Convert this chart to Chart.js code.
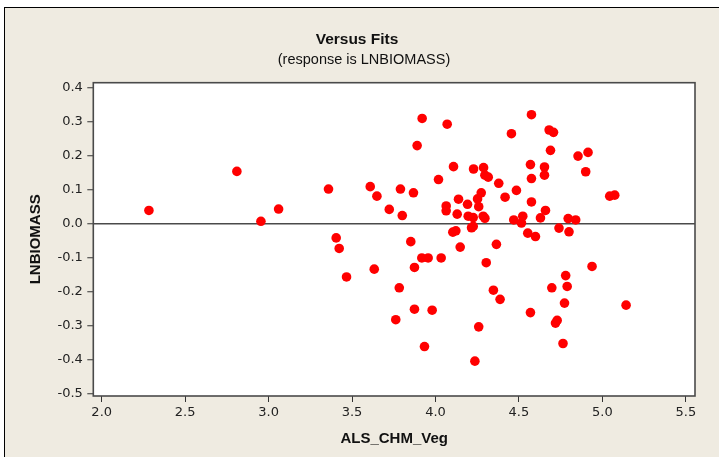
<!DOCTYPE html>
<html><head><meta charset="utf-8">
<script src="https://cdn.jsdelivr.net/npm/chart.js@4"></script>
<style>
html,body{margin:0;padding:0;background:#fff;overflow:hidden;}
#wrap{position:relative;width:719px;height:457px;}
#frame{position:absolute;left:4px;top:7px;right:0;bottom:0;background:#EFEBE1;border-top:1px solid #000;border-left:1px solid #000;}
canvas{position:absolute;left:0;top:0;}
</style></head><body>
<div id="wrap"><div id="frame"></div><canvas id="c" width="719" height="457"></canvas></div>
<script>
const chartTitle = 'Versus Fits';
const chartSubtitle = '(response is LNBIOMASS)';
const xAxisTitle = 'ALS_CHM_Veg';
const yAxisTitle = 'LNBIOMASS';
const xTickValues = [2.0, 2.5, 3.0, 3.5, 4.0, 4.5, 5.0, 5.5];
const xTickLabels = ['2.0','2.5','3.0','3.5','4.0','4.5','5.0','5.5'];
const yTickValues = [-0.5,-0.4,-0.3,-0.2,-0.1,0,0.1,0.2,0.3,0.4];
const yTickLabels = ['-0.5','-0.4','-0.3','-0.2','-0.1','0.0','0.1','0.2','0.3','0.4'];

const fitValues = [
 2.283,2.810,2.954,3.060,3.359,3.405,3.423,3.609,3.649,3.790,
 3.868,3.723,3.801,3.920,4.070,3.890,4.108,4.018,4.228,4.288,
 4.296,4.316,4.379,4.138,4.192,4.252,4.274,4.259,4.064,4.064,
 4.130,4.196,4.226,4.286,4.296,4.104,4.122,4.216,4.226,3.852,
 4.148,4.365,3.918,3.956,4.034,3.874,3.633,3.467,4.304,3.783,
 4.347,4.387,3.874,3.980,3.762,4.259,3.934,4.236,4.575,4.455,
 4.681,4.707,4.689,4.854,4.914,4.569,4.653,4.653,4.575,4.900,
 4.485,4.417,4.575,4.659,4.629,4.523,4.469,4.515,4.795,4.840,
 5.044,5.074,4.553,4.599,4.740,4.800,4.938,4.780,4.697,4.789,
 4.773,5.142,4.569,4.729,4.719,4.764
];
const residualValues = [
 0.039,0.154,0.007,0.043,0.102,-0.042,-0.073,0.109,0.081,0.102,
 0.091,0.042,0.024,0.310,0.293,0.230,0.168,0.130,0.161,0.165,
 0.143,0.137,0.119,0.072,0.057,0.073,0.091,0.050,0.052,0.038,
 0.028,0.022,0.018,0.022,0.016,-0.025,-0.021,-0.012,-0.008,-0.053,
 -0.069,-0.061,-0.101,-0.101,-0.101,-0.129,-0.134,-0.157,-0.115,-0.189,
 -0.196,-0.223,-0.252,-0.255,-0.283,-0.304,-0.362,-0.405,0.321,0.265,
 0.276,0.269,0.216,0.199,0.210,0.174,0.167,0.143,0.133,0.153,
 0.098,0.078,0.064,0.039,0.017,0.022,0.011,0.002,0.015,0.011,
 0.081,0.084,-0.028,-0.038,-0.013,-0.024,-0.126,-0.153,-0.189,-0.185,
 -0.234,-0.240,-0.262,-0.285,-0.293,-0.353
];

const plotFrame = {
  id: 'plotFrame',
  beforeDraw(chart) {
    const {ctx, chartArea: a} = chart;
    ctx.save();
    ctx.fillStyle = '#FFFFFF';
    ctx.fillRect(a.left, a.top, a.right - a.left, a.bottom - a.top);
    ctx.restore();
  },
  afterDraw(chart) {
    const {ctx, chartArea: a} = chart;
    ctx.save();
    ctx.strokeStyle = '#4a4a4a';
    ctx.lineWidth = 1.6;
    ctx.strokeRect(a.left, a.top, a.right - a.left, a.bottom - a.top);
    ctx.fillStyle = '#111';
    ctx.textAlign = 'center';
    ctx.textBaseline = 'middle';
    ctx.font = 'bold 15.5px "Liberation Sans", Arial, sans-serif';
    ctx.fillText(chartTitle, 357, 40);
    ctx.font = '14.5px "Liberation Sans", Arial, sans-serif';
    ctx.fillText(chartSubtitle, 364, 60);
    ctx.restore();
  }
};

const tickFont = {family: '"DejaVu Sans", Verdana, sans-serif', size: 13};

new Chart(document.getElementById('c'), {
  type: 'scatter',
  data: {
    datasets: [{
      data: fitValues.map((x, i) => ({x: x, y: residualValues[i]})),
      backgroundColor: '#FF0000',
      borderColor: '#FF0000',
      borderWidth: 0,
      pointRadius: 4.8,
      pointHoverRadius: 4.8
    }]
  },
  options: {
    responsive: false,
    animation: false,
    devicePixelRatio: 1,
    layout: {padding: {top: 82.7, right: 24, left: 0, bottom: 0}},
    plugins: {legend: {display: false}, tooltip: {enabled: false}, title: {display: false}},
    scales: {
      x: {
        type: 'linear',
        min: 1.9497, max: 5.5549,
        afterBuildTicks: s => { s.ticks = xTickValues.map(v => ({value: v})); },
        afterFit: s => { s.height = 61; },
        ticks: {font: tickFont, color: '#222', padding: 3, maxRotation: 0, callback: (v, i) => xTickLabels[i]},
        grid: {drawOnChartArea: false, drawTicks: true, tickLength: 6, tickColor: '#333', tickWidth: 1},
        border: {display: false},
        title: {display: true, text: xAxisTitle, color: '#111', font: {family: '"Liberation Sans", Arial, sans-serif', size: 15, weight: 'bold'}, padding: {top: 0, bottom: 9}}
      },
      y: {
        type: 'linear',
        min: -0.5077, max: 0.4153,
        afterBuildTicks: s => { s.ticks = yTickValues.map(v => ({value: v})); },
        afterFit: s => { s.width = 93.3; },
        ticks: {font: tickFont, color: '#222', padding: 4.5, callback: (v, i) => yTickLabels[i]},
        grid: {
          drawOnChartArea: true, drawTicks: true, tickLength: 6, tickColor: '#333', tickWidth: 1,
          color: c => (c.tick && c.tick.value === 0) ? '#4a4a4a' : 'rgba(0,0,0,0)',
          lineWidth: 1.5
        },
        border: {display: false},
        title: {display: true, text: yAxisTitle, color: '#111', font: {family: '"Liberation Sans", Arial, sans-serif', size: 15, weight: 'bold'}, padding: {top: 27, bottom: 0}}
      }
    }
  },
  plugins: [plotFrame]
});
</script>
</body></html>
